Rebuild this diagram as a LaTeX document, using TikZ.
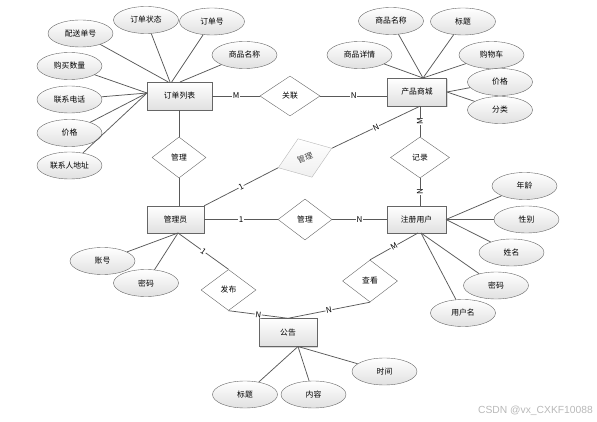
\documentclass[tikz,border=0pt]{standalone}
\usepackage{fontspec}
\setmainfont{Noto Sans CJK SC}
\newfontfamily\wmfont{Liberation Sans}
\usetikzlibrary{shapes.geometric,shadows,calc}
\begin{document}
\begin{tikzpicture}[x=1pt,y=-1pt,
  every node/.style={font=\fontsize{7.8}{9}\selectfont},
  ent/.style={rectangle, draw=black!60, top color=white, bottom color=black!12,
    minimum width=59pt, minimum height=28pt, inner sep=0pt,
    drop shadow={shadow xshift=1.2pt, shadow yshift=-1.2pt, opacity=0.3}},
  attr/.style={ellipse, draw=black!60, top color=white, bottom color=black!12,
    minimum width=65pt, minimum height=27pt, inner sep=0pt},
  rel/.style={diamond, aspect=1, draw=black!60, fill=white,
    minimum width=55pt, minimum height=41pt, inner sep=0pt},
  conn/.style={draw=black!65, line width=0.75pt},
  lab/.style={fill=white, inner sep=0.6pt, font=\fontsize{8}{9}\selectfont}
]
\useasboundingbox (0,0) rectangle (597,422);

% entities
\node[ent, minimum width=65pt] (ord) at (179.5,96) {订单列表};
\node[ent] (prod) at (417,92) {产品商城};
\node[ent, minimum width=57pt, minimum height=27pt] (adm) at (175.5,219.5) {管理员};
\node[ent, minimum height=27pt] (usr) at (416.5,219.5) {注册用户};
\node[ent, minimum width=58pt] (ntc) at (288,332.5) {公告};

% relationships
\node[rel, minimum width=60pt, minimum height=40pt] (gl) at (290,96) {关联};
\node[rel, minimum width=54pt] (m1) at (179,157.5) {管理};
\node[rel, minimum width=59pt] (jl) at (420,157.5) {记录};
\node[rel, minimum width=54pt] (m2) at (305,219.5) {管理};
\node[rel] (fb) at (228.5,290) {发布};
\node[rel, minimum height=42pt] (ck) at (370,281) {查看};
\node[rel, rotate=20, draw=black!28, text=black!75, top color=white, bottom color=black!6,
  minimum width=57pt] (mr) at (305,158) {管理};

% attributes of 订单列表
\node[attr] (o1) at (80.5,33.5) {配送单号};
\node[attr] (o2) at (146,20) {订单状态};
\node[attr] (o3) at (212,21.5) {订单号};
\node[attr] (o4) at (244.5,55) {商品名称};
\node[attr] (o5) at (69.5,66) {购买数量};
\node[attr] (o6) at (69.5,99.5) {联系电话};
\node[attr] (o7) at (69.5,133) {价格};
\node[attr] (o8) at (69.5,165.5) {联系人地址};

% attributes of 产品商城
\node[attr] (p1) at (391,21) {商品名称};
\node[attr] (p2) at (463,21.5) {标题};
\node[attr] (p3) at (359.5,55) {商品详情};
\node[attr] (p4) at (491.5,55) {购物车};
\node[attr] (p5) at (500,82) {价格};
\node[attr] (p6) at (500,110) {分类};

% attributes of 注册用户
\node[attr] (u1) at (524.5,186) {年龄};
\node[attr] (u2) at (526.5,219.5) {性别};
\node[attr] (u3) at (511.5,252.5) {姓名};
\node[attr] (u4) at (496,285.5) {密码};
\node[attr] (u5) at (463,313) {用户名};

% attributes of 管理员
\node[attr] (a1) at (102.5,261) {账号};
\node[attr] (a2) at (146,283) {密码};

% attributes of 公告
\node[attr] (n1) at (245,394.5) {标题};
\node[attr] (n2) at (313.5,394.5) {内容};
\node[attr] (n3) at (384.5,371.5) {时间};

% connection points on entity borders
\coordinate (oT1) at (168.3,82);
\coordinate (oT2) at (170,82);
\coordinate (oT3) at (171.7,82);
\coordinate (oT4) at (180,82);
\coordinate (oL) at (147,93);
\coordinate (pT) at (423,78);
\coordinate (pR) at (447,92);
\coordinate (uR) at (446,219.5);
\coordinate (uB1) at (421,233);
\coordinate (uB2) at (418,233);
\coordinate (aB) at (178,233);
\coordinate (nB) at (298,346.5);

% attribute lines
\foreach \a/\p in {o1/oT1, o2/oT2, o3/oT3, o4/oT4, o5/oL, o6/oL, o7/oL, o8/oL,
                   p1/pT, p2/pT, p3/pT, p4/pT, p5/pR, p6/pR,
                   u1/uR, u2/uR, u3/uR, u4/uB1, u5/uB1,
                   a1/aB, a2/aB, n1/nB, n2/nB, n3/nB}
  \draw[conn] (\a) -- (\p);

% relationship lines
\draw[conn] (ord.east) -- (gl.west) node[lab, pos=0.5] {M};
\draw[conn] (gl.east) -- (gl.east -| prod.west) node[lab, pos=0.5] {N};
\draw[conn] (m1.north |- ord.south) -- (m1.north);
\draw[conn] (m1.south) -- (m1.south |- adm.north);
\draw[conn] (adm.north east) -- (mr.west) node[lab, pos=0.5, sloped] {1};
\draw[conn] (mr.east) -- (jl.north |- prod.south) node[lab, pos=0.5, sloped] {N};
\draw[conn] (jl.north |- prod.south) -- (jl.north) node[lab, pos=0.5, rotate=90] {M};
\draw[conn] (jl.south) -- (jl.south |- usr.north) node[lab, pos=0.5, rotate=90] {N};
\draw[conn] (adm.east) -- (m2.west) node[lab, pos=0.5] {1};
\draw[conn] (m2.east) -- (usr.west) node[lab, pos=0.5] {N};
\draw[conn] (aB) -- (fb.north) node[lab, pos=0.5, sloped] {1};
\draw[conn] (fb.south) -- (ntc.north) node[lab, pos=0.5, sloped] {N};
\draw[conn] (ck.south) -- (ntc.north) node[lab, pos=0.5, sloped] {N};
\draw[conn] (uB2) -- (ck.north) node[lab, pos=0.5, sloped] {M};

% watermark
\node[font=\wmfont\fontsize{10.3}{12}\selectfont, text=black!28, inner sep=0pt] (wm) at (535.5,410.5) {CSDN @vx\_CXKF10088};
\end{tikzpicture}
\end{document}
